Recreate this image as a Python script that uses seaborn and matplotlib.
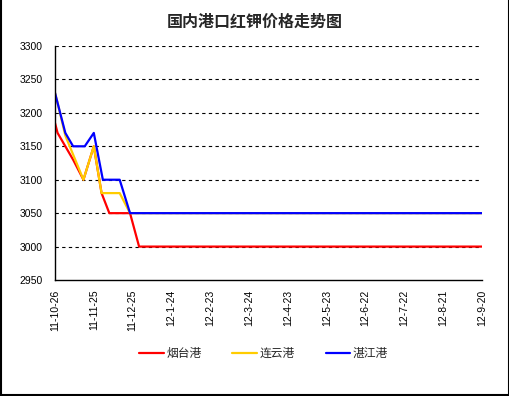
import pandas as pd
import matplotlib
matplotlib.use("Agg")
import matplotlib.pyplot as plt
import seaborn as sns

# day offsets from 2011-10-26, vertices
days_yt = [0, 2, 14, 22, 30, 36, 42, 58, 65, 330]
price_yt = [3185, 3170, 3130, 3100, 3150, 3080, 3050, 3050, 3000, 3000]

days_lyg = [0, 2, 8, 22, 30, 36, 50, 58, 330]
price_lyg = [3230, 3215, 3166, 3100, 3150, 3080, 3080, 3050, 3050]

days_zj = [0, 2, 8, 14, 23, 30, 37, 50, 58, 330]
price_zj = [3230, 3215, 3170, 3150, 3150, 3170, 3100, 3100, 3050, 3050]

tick_days = [0, 30, 60, 90, 120, 150, 180, 210, 240, 270, 300, 330]
tick_labels = ['11-10-26', '11-11-25', '11-12-25', '12-1-24', '12-2-23', '12-3-24',
               '12-4-23', '12-5-23', '12-6-22', '12-7-22', '12-8-21', '12-9-20']

sns.set_style("white")
plt.rcParams['font.family'] = ['Liberation Sans', 'Noto Sans CJK SC', 'DejaVu Sans']

fig = plt.figure(figsize=(5.1, 3.96), dpi=100)
ax = fig.add_axes([0.1078, 0.2929, 0.8373, 0.5909])

df_yt = pd.DataFrame({'day': days_yt, 'price': price_yt})
df_lyg = pd.DataFrame({'day': days_lyg, 'price': price_lyg})
df_zj = pd.DataFrame({'day': days_zj, 'price': price_zj})

sns.lineplot(data=df_yt, x='day', y='price', color='#ff0000', linewidth=1.6, label='烟台港', ax=ax)
sns.lineplot(data=df_lyg, x='day', y='price', color='#ffcc00', linewidth=1.6, label='连云港', ax=ax)
sns.lineplot(data=df_zj, x='day', y='price', color='#0000ff', linewidth=1.6, label='湛江港', ax=ax)

ax.set_xlim(0, 330)
ax.set_ylim(2950, 3300)
ax.set_yticks(range(2950, 3301, 50))
ax.set_xticks(tick_days)
ax.set_xticklabels(tick_labels, rotation=90)
ax.set_xlabel('')
ax.set_ylabel('')
for y in range(3000, 3301, 50):
    ax.axhline(y, color='black', linestyle=(0, (3, 3)), linewidth=0.8, zorder=0)

ax.spines['top'].set_visible(False)
ax.spines['right'].set_visible(False)
ax.spines['left'].set_color('black')
ax.spines['bottom'].set_color('black')
ax.spines['left'].set_linewidth(1)
ax.spines['bottom'].set_linewidth(1)
ax.tick_params(axis='y', direction='in', length=4, width=1, pad=9, labelsize=7.5, colors='black')
ax.tick_params(axis='x', direction='in', length=4, width=1, pad=7, labelsize=7.5, colors='black')

handles, labels = ax.get_legend_handles_labels()
ax.get_legend().remove()
fig.legend(handles, labels, loc='center', bbox_to_anchor=(0.517, 0.106), ncol=3,
           frameon=False, fontsize=8.5, handlelength=2.1, handletextpad=0.2,
           columnspacing=2.6)

fig.text(0.4994, 1 - 22 / 396, '国内港口红钾价格走势图', ha='center', va='center',
         fontsize=11.5, fontweight='bold', family=['Noto Sans CJK SC'])

# outer frame of the chart (left, right, bottom)
x0, x1 = 1 / 510, 1 - 1 / 510
y0, y1 = 1 / 396, 1.0
for xs, ys in [([x0, x0], [y0, y1]), ([x1, x1], [y0, y1]), ([x0, x1], [y0, y0])]:
    fig.add_artist(plt.Line2D(xs, ys, color='black', linewidth=1.5,
                              transform=fig.transFigure, solid_capstyle='projecting'))

fig.savefig('out.png', dpi=100)
